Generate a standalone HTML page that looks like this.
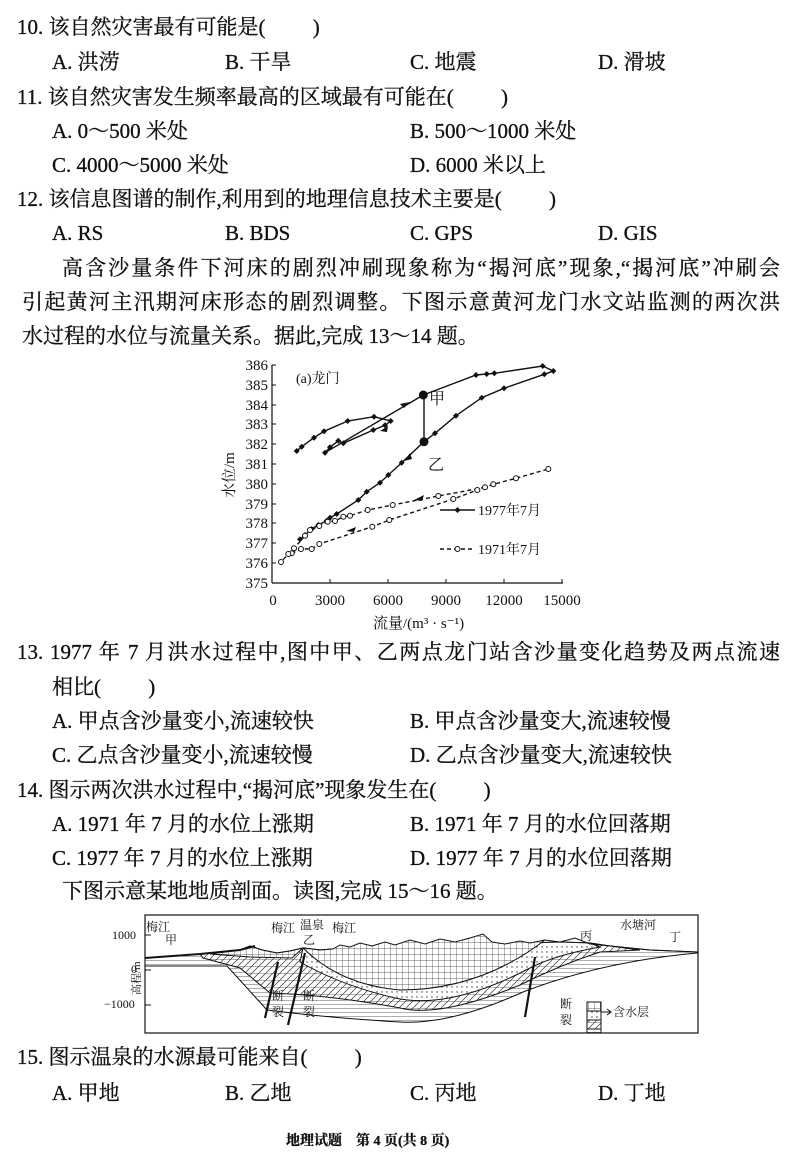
<!DOCTYPE html>
<html><head><meta charset="utf-8"><style>
body{margin:0;width:800px;height:1162px;background:#fff;position:relative;overflow:hidden;font-family:"Liberation Serif","Noto Serif CJK SC",serif;color:#111}
.l{position:absolute;font-size:21px;line-height:24px;white-space:nowrap;-webkit-text-stroke:0.3px #111}
.j{position:absolute;left:22px;width:758px;font-size:21px;line-height:24px;text-align:justify;text-align-last:justify;white-space:nowrap;-webkit-text-stroke:0.3px #111}
svg text{font-family:"Liberation Serif","Noto Serif CJK SC",serif}
</style></head><body>
<div class="l" style="left:17px;top:15px">10. 该自然灾害最有可能是(　　 )</div>
<div class="l" style="left:52px;top:50px">A. 洪涝</div><div class="l" style="left:225px;top:50px">B. 干旱</div><div class="l" style="left:410px;top:50px">C. 地震</div><div class="l" style="left:598px;top:50px">D. 滑坡</div>
<div class="l" style="left:17px;top:85px">11. 该自然灾害发生频率最高的区域最有可能在(　　 )</div>
<div class="l" style="left:52px;top:119px">A. 0～500 米处</div><div class="l" style="left:410px;top:119px">B. 500～1000 米处</div>
<div class="l" style="left:52px;top:153px">C. 4000～5000 米处</div><div class="l" style="left:410px;top:153px">D. 6000 米以上</div>
<div class="l" style="left:17px;top:187px">12. 该信息图谱的制作,利用到的地理信息技术主要是(　　 )</div>
<div class="l" style="left:52px;top:221px">A. RS</div><div class="l" style="left:225px;top:221px">B. BDS</div><div class="l" style="left:410px;top:221px">C. GPS</div><div class="l" style="left:598px;top:221px">D. GIS</div>
<div class="j" style="left:62px;width:718px;top:256px">高含沙量条件下河床的剧烈冲刷现象称为“揭河底”现象,“揭河底”冲刷会</div>
<div class="j" style="top:290px">引起黄河主汛期河床形态的剧烈调整。下图示意黄河龙门水文站监测的两次洪</div>
<div class="l" style="left:22px;top:324px">水过程的水位与流量关系。据此,完成 13～14 题。</div>

<svg style="position:absolute;left:0;top:0" width="800" height="1162">
<g font-size="14" fill="#111">
<line x1="272" y1="365" x2="272" y2="583" stroke="#111" stroke-width="1.2"/>
<line x1="272" y1="583" x2="563" y2="583" stroke="#111" stroke-width="1.2"/>
<g stroke="#111">
<line x1="272" y1="365" x2="276" y2="365"/><line x1="272" y1="385" x2="276" y2="385"/><line x1="272" y1="405" x2="276" y2="405"/><line x1="272" y1="424" x2="276" y2="424"/><line x1="272" y1="444" x2="276" y2="444"/><line x1="272" y1="464" x2="276" y2="464"/><line x1="272" y1="484" x2="276" y2="484"/><line x1="272" y1="504" x2="276" y2="504"/><line x1="272" y1="523" x2="276" y2="523"/><line x1="272" y1="543" x2="276" y2="543"/><line x1="272" y1="563" x2="276" y2="563"/>
<line x1="330" y1="583" x2="330" y2="579"/><line x1="388" y1="583" x2="388" y2="579"/><line x1="446" y1="583" x2="446" y2="579"/><line x1="504" y1="583" x2="504" y2="579"/><line x1="562" y1="583" x2="562" y2="579"/>
</g>
<g text-anchor="end" font-size="15"><text x="268" y="370">386</text><text x="268" y="390">385</text><text x="268" y="410">384</text><text x="268" y="429">383</text><text x="268" y="449">382</text><text x="268" y="469">381</text><text x="268" y="489">380</text><text x="268" y="509">379</text><text x="268" y="528">378</text><text x="268" y="548">377</text><text x="268" y="568">376</text><text x="268" y="588">375</text></g>
<g text-anchor="middle" font-size="15"><text x="273" y="605">0</text><text x="330" y="605">3000</text><text x="388" y="605">6000</text><text x="446" y="605">9000</text><text x="504" y="605">12000</text><text x="562" y="605">15000</text></g>
<text x="373" y="628" font-size="15">流量/(m³ · s⁻¹)</text>
<text transform="translate(234,498) rotate(-90)" font-size="15">水位/m</text>
<text x="296" y="383" font-size="14">(a)龙门</text>
<text x="429" y="404" font-size="16">甲</text><text x="428" y="470" font-size="16">乙</text>
</g>
<g fill="none" stroke="#111" stroke-width="1.4">
<polyline points="296.7,451 301.7,446.7 314,437.7 324,431.3 347.7,421 374,416.7 390.7,421 385,425.3 373.3,430 343.3,443.3 338.3,440.7 330,447.3 325,452.7 423.3,395 476,375 486.7,374 494.3,373.3 542.7,366 553.3,371 544.3,374.3 504,388.3 481.7,397.7 456,415.7 435,433.3 424,441.7 401.7,462.7 388.3,475 380,482.7 366.7,491.7 358.3,500 336.7,514 330,517.7 326.7,520.7 318.3,525 311.7,529 305,535 300,539.3"/>
<line x1="424" y1="395" x2="424" y2="441.7"/>
<polyline stroke-dasharray="4,3" points="291.7,553.3 301,549 311.7,549 319.3,544 372.3,526.7 389.3,520 453.3,499 477.3,490 485,487.3 493.3,484.3 516,478.3 548.3,469"/>
<polyline stroke-dasharray="4,3" points="485,487.3 438.3,496 392.7,505 367.7,510 350,515.7 343.3,516.7 335,521 327.7,521.7 319.3,526 310,530 305,535.7 294,548.3 288.3,554 281,562"/>
<line x1="440" y1="510" x2="475" y2="510"/><line x1="440" y1="549" x2="475" y2="549" stroke-dasharray="4,3"/>
</g>
<g fill="#111">
<path d="M410,402 l-10,2 4,4z"/><path d="M410,453 l-6,8 8,-2z"/><path d="M346,531 l10,-4 -2,5z"/><path d="M414,500 l10,-5 -2,6z"/><path d="M380,431 l8,-5 -1,6z"/>
<circle cx="423.3" cy="395" r="4.5"/><circle cx="424" cy="441.7" r="4.5"/>
<path d="M296.7,448l3,3-3,3-3-3z M301.7,443.7l3,3-3,3-3-3z M314,434.7l3,3-3,3-3-3z M324,428.3l3,3-3,3-3-3z M347.7,418l3,3-3,3-3-3z M374,413.7l3,3-3,3-3-3z M390.7,418l3,3-3,3-3-3z M385,422.3l3,3-3,3-3-3z M373.3,427l3,3-3,3-3-3z M343.3,440.3l3,3-3,3-3-3z M338.3,437.7l3,3-3,3-3-3z M330,444.3l3,3-3,3-3-3z M325,449.7l3,3-3,3-3-3z M476,372l3,3-3,3-3-3z M486.7,371l3,3-3,3-3-3z M494.3,370.3l3,3-3,3-3-3z M542.7,363l3,3-3,3-3-3z M553.3,368l3,3-3,3-3-3z M544.3,371.3l3,3-3,3-3-3z M504,385.3l3,3-3,3-3-3z M481.7,394.7l3,3-3,3-3-3z M456,412.7l3,3-3,3-3-3z M435,430.3l3,3-3,3-3-3z M401.7,459.7l3,3-3,3-3-3z M388.3,472l3,3-3,3-3-3z M380,479.7l3,3-3,3-3-3z M366.7,488.7l3,3-3,3-3-3z M358.3,497l3,3-3,3-3-3z M336.7,511l3,3-3,3-3-3z M330,514.7l3,3-3,3-3-3z M326.7,517.7l3,3-3,3-3-3z M318.3,522l3,3-3,3-3-3z M311.7,526l3,3-3,3-3-3z M305,532l3,3-3,3-3-3z M300,536.3l3,3-3,3-3-3z M457.5,507l3,3-3,3-3-3z"/>
</g>
<g fill="#fff" stroke="#111" stroke-width="1">
<circle cx="291.7" cy="553.3" r="2.5"/><circle cx="301" cy="549" r="2.5"/><circle cx="311.7" cy="549" r="2.5"/><circle cx="319.3" cy="544" r="2.5"/><circle cx="372.3" cy="526.7" r="2.5"/><circle cx="389.3" cy="520" r="2.5"/><circle cx="453.3" cy="499" r="2.5"/><circle cx="477.3" cy="490" r="2.5"/><circle cx="485" cy="487.3" r="2.5"/><circle cx="493.3" cy="484.3" r="2.5"/><circle cx="516" cy="478.3" r="2.5"/><circle cx="548.3" cy="469" r="2.5"/><circle cx="438.3" cy="496" r="2.5"/><circle cx="392.7" cy="505" r="2.5"/><circle cx="367.7" cy="510" r="2.5"/><circle cx="350" cy="515.7" r="2.5"/><circle cx="343.3" cy="516.7" r="2.5"/><circle cx="335" cy="521" r="2.5"/><circle cx="327.7" cy="521.7" r="2.5"/><circle cx="319.3" cy="526" r="2.5"/><circle cx="310" cy="530" r="2.5"/><circle cx="305" cy="535.7" r="2.5"/><circle cx="294" cy="548.3" r="2.5"/><circle cx="288.3" cy="554" r="2.5"/><circle cx="281" cy="562" r="2.5"/><circle cx="457.5" cy="549" r="2.5"/>
</g>
<g font-size="14" fill="#111"><text x="478" y="515">1977年7月</text><text x="478" y="554">1971年7月</text></g>

<!-- geology -->
<defs>
<pattern id="grid" width="6" height="6" patternUnits="userSpaceOnUse"><rect width="6" height="6" fill="#fff"/><path d="M0,0H6M0,0V6" stroke="#333" stroke-width="0.7" fill="none"/></pattern>
<pattern id="hz" width="6" height="4" patternUnits="userSpaceOnUse"><rect width="6" height="4" fill="#fff"/><path d="M0,0H6" stroke="#333" stroke-width="0.8"/></pattern>
<pattern id="diag" width="7" height="7" patternUnits="userSpaceOnUse"><rect width="7" height="7" fill="#fff"/><path d="M0,7L7,0M0,0H7" stroke="#333" stroke-width="0.7"/></pattern>
<pattern id="dot" width="5" height="5" patternUnits="userSpaceOnUse"><rect width="5" height="5" fill="#fff"/><circle cx="2" cy="2" r="0.7" fill="#333"/></pattern>
</defs>
<rect x="145" y="915" width="553" height="118" fill="none" stroke="#111" stroke-width="1.2"/>
<g stroke="#111" stroke-width="1">
<path d="M145,958 L200,954 L240,950 L250,946 L262,950 L277,953 L290,951 L303,948 L320,950 L333,949 L500,945 L530,943 L560,942 L590,943 L610,946 L630,948 L650,950 L697,952 L697,953 Q600,962 523,992 Q450,1025 400,1022 Q330,1018 267,1010 L227,966 L145,966 Z" fill="url(#hz)"/>
<path d="M200,954 L240,950 L250,946 L262,950 L277,953 L290,951 L303,948 L320,950 L333,949 L500,945 L530,943 L560,942 L590,943 L610,946 L640,950 L600,952 Q560,965 520,985 Q440,1018 400,1008 Q330,995 270,993 L240,968 L203,958 Z" fill="url(#diag)"/>
<path d="M303,948 L320,950 L333,949 L500,945 L530,943 L560,942 L590,943 L600,947 Q555,955 530,968 Q450,1010 395,998 Q340,985 300,962 Z" fill="url(#dot)"/>
<path d="M303,948 L320,950 L333,949 L340,945 L350,947 L360,943 L372,946 L385,942 L395,945 L410,940 L425,944 L440,939 L455,942 L470,938 L483,934 L492,942 L505,944 L520,941 L530,943 L545,940 Q480,990 400,990 Q340,985 303,948 Z" fill="url(#grid)"/>
<path d="M210,954 L240,950 L250,946 L262,950 L277,953 L290,951 L303,948 L292,958 L250,957 Z" fill="url(#grid)"/>
<path d="M545,940 L560,942 L575,938 L590,944 L610,946 L630,948 L650,950 L697,952" fill="none"/>
<path d="M145,958 L200,954 L240,950 L255,946" fill="none" stroke-width="2"/>
<path d="M278,962 L265,1018 M305,953 L288,1025 M535,957 L525,1017" fill="none" stroke-width="2.2"/>
<line x1="145" y1="935" x2="151" y2="935"/><line x1="145" y1="970" x2="151" y2="970"/><line x1="145" y1="1005" x2="151" y2="1005"/>
<rect x="587" y="1002" width="14" height="9" fill="url(#grid)"/><rect x="587" y="1011" width="14" height="9" fill="url(#dot)"/><rect x="587" y="1020" width="14" height="9" fill="url(#diag)"/><rect x="587" y="1029" width="14" height="4" fill="url(#hz)"/>
<path d="M601,1012 H610" /><path d="M607,1009 L611,1012 607,1015" fill="none"/>
</g>
<g font-size="12" fill="#111">
<text x="112" y="939">1000</text><text x="131" y="973">0</text><text x="104" y="1008">−1000</text>
<text transform="translate(140,995) rotate(-90)" font-size="11">高程/m</text>
<text x="146" y="931">梅江</text><text x="165" y="944">甲</text>
<text x="271" y="932">梅江</text><text x="300" y="929">温泉</text><text x="303" y="944">乙</text><text x="332" y="932">梅江</text>
<text x="580" y="940">丙</text><text x="620" y="929">水塘河</text><text x="669" y="941">丁</text>
<text x="272" y="1000">断</text><text x="272" y="1016">裂</text><text x="303" y="1000">断</text><text x="303" y="1016">裂</text>
<text x="560" y="1008">断</text><text x="560" y="1024">裂</text><text x="613" y="1016">含水层</text>
</g>
</svg>

<div class="j" style="left:17px;width:763px;top:640px">13. 1977 年 7 月洪水过程中,图中甲、乙两点龙门站含沙量变化趋势及两点流速</div>
<div class="l" style="left:52px;top:675px">相比(　　 )</div>
<div class="l" style="left:52px;top:709px">A. 甲点含沙量变小,流速较快</div><div class="l" style="left:410px;top:709px">B. 甲点含沙量变大,流速较慢</div>
<div class="l" style="left:52px;top:743px">C. 乙点含沙量变小,流速较慢</div><div class="l" style="left:410px;top:743px">D. 乙点含沙量变大,流速较快</div>
<div class="l" style="left:17px;top:778px">14. 图示两次洪水过程中,“揭河底”现象发生在(　　 )</div>
<div class="l" style="left:52px;top:812px">A. 1971 年 7 月的水位上涨期</div><div class="l" style="left:410px;top:812px">B. 1971 年 7 月的水位回落期</div>
<div class="l" style="left:52px;top:846px">C. 1977 年 7 月的水位上涨期</div><div class="l" style="left:410px;top:846px">D. 1977 年 7 月的水位回落期</div>
<div class="l" style="left:62px;top:879px">下图示意某地地质剖面。读图,完成 15～16 题。</div>
<div class="l" style="left:17px;top:1045px">15. 图示温泉的水源最可能来自(　　 )</div>
<div class="l" style="left:52px;top:1081px">A. 甲地</div><div class="l" style="left:225px;top:1081px">B. 乙地</div><div class="l" style="left:410px;top:1081px">C. 丙地</div><div class="l" style="left:598px;top:1081px">D. 丁地</div>
<div class="l" style="left:286px;top:1130px;font-size:14px;font-weight:bold">地理试题　第 4 页(共 8 页)</div>
</body></html>
